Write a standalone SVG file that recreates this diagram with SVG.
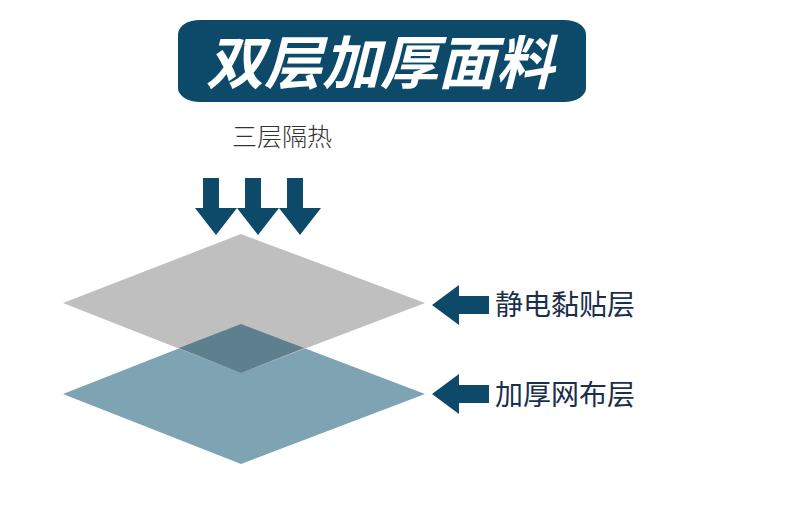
<svg xmlns="http://www.w3.org/2000/svg" width="790" height="525" viewBox="0 0 790 525">
<defs><style>
.ar{fill:#0d4a6a}
.lb{font-family:"Noto Sans CJK SC",sans-serif;font-size:28px;fill:#1b2f4c}
</style></defs>
<rect width="790" height="525" fill="#fff"/>
<g id="title"><rect x="178" y="20" width="408" height="82" rx="22" ry="14" fill="#0d4a6a"/>
<text x="380" y="84" text-anchor="middle" font-family="Noto Sans CJK SC,sans-serif" font-size="58" font-weight="bold" font-style="italic" fill="#fff">双层加厚面料</text></g>
<g id="subtitle"><text x="232" y="146" font-family="Noto Sans CJK SC,sans-serif" font-size="25" font-weight="300" fill="#333">三层隔热</text></g>
<g id="connectors">
<polygon class="ar" points="203,178 219,178 219,208 237,208 216,235 195,208 203,208"/>
<polygon class="ar" points="245,178 261,178 261,208 279,208 258,235 237,208 245,208"/>
<polygon class="ar" points="287,178 303,178 303,208 321,208 300,235 279,208 287,208"/>
<polygon class="ar" points="432,305 459,285 459,296 489,296 489,314 459,314 459,325"/>
<polygon class="ar" points="432,394 459,374 459,385 489,385 489,403 459,403 459,414"/>
</g>
<g id="layers">
<polygon points="63,394 241,324 425,394 241,464" fill="#7ea3b3"/>
<polygon points="63,303 241,234 425,303 241,373" fill="#bfbfbf"/>
<polygon points="179,348 241,324 304,348 241,373" fill="#5e7f8d"/>
</g>
<g id="label1"><text class="lb" x="495" y="315">静电黏贴层</text></g>
<g id="label2"><text class="lb" x="495" y="405">加厚网布层</text></g>
</svg>
